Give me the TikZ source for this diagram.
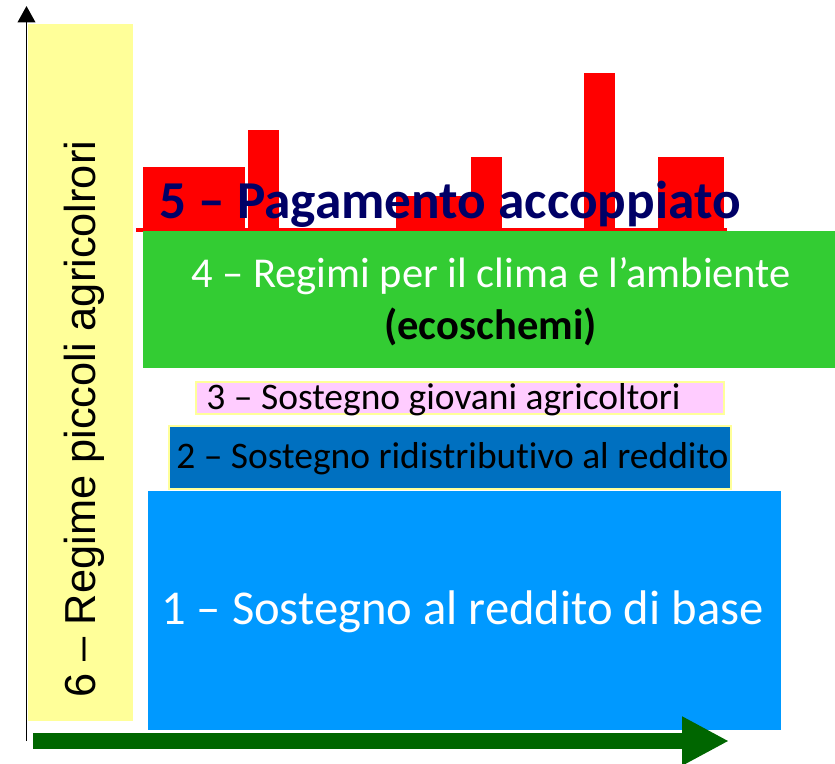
\documentclass[tikz,border=0pt]{standalone}
\usepackage{fontspec}
\setmainfont{Carlito}[Ligatures={TeX,NoCommon}]
\newfontfamily\arialfont{Liberation Sans}
\usetikzlibrary{arrows.meta}
\definecolor{schemeyellow}{HTML}{FFFF99}
\definecolor{barred}{HTML}{FF0000}
\definecolor{titlenavy}{HTML}{000066}
\definecolor{ecogreen}{HTML}{33CC33}
\definecolor{youngpink}{HTML}{FFCCFF}
\definecolor{redisblue}{HTML}{0070C0}
\definecolor{baseblue}{HTML}{0099FF}
\definecolor{axisgreen}{HTML}{006600}

\begin{document}
\begin{tikzpicture}[x=0.03cm, y=-0.03cm,
    every node/.style={inner sep=0pt},
    pillar/.style={anchor=base, font=\fontsize{32}{36}\selectfont}]
  \useasboundingbox (0,0) rectangle (835,764);
  % 6: small farmers, vertical column
  \fill[schemeyellow] (28,24) rectangle (133,721);
  \node[anchor=base, rotate=90, font=\arialfont\fontsize{37}{42}\selectfont]
    (small) at (95,419) {6 – Regime piccoli agricolrori};
  % 5: coupled payments, red bars on a base line
  \fill[barred] (136,228) rectangle (727,232);
  \foreach \xa/\xb/\yt in {143/245/167, 248/279/130, 396/471/196,
                           471/502/157, 584/615/73, 658/724/157} {
    \fill[barred] (\xa,\yt) rectangle (\xb,231);
  }
  % 4: eco-schemes
  \fill[ecogreen] (143,231) rectangle (835,368);
  \node[pillar, text=white, font=\fontsize{36.3}{40}\selectfont]
    (eco) at (491,288) {4 – Regimi per il clima e l’ambiente};
  \node[pillar, font=\bfseries\fontsize{36.3}{40}\selectfont]
    (econame) at (490.5,340) {(ecoschemi)};
  \node[anchor=base, text=titlenavy, font=\bfseries\fontsize{45.5}{50}\selectfont]
    (coupled) at (450,219) {5 – Pagamento accoppiato};
  % 3 and 2
  \filldraw[fill=youngpink, draw=schemeyellow, line width=1.5pt] (196,382) rectangle (724,414);
  \node[pillar] (young) at (443.5,409) {3 – Sostegno giovani agricoltori};
  \filldraw[fill=redisblue, draw=schemeyellow, line width=1pt] (169,426) rectangle (731,489);
  \node[pillar] (redis) at (452.5,468) {2 – Sostegno ridistributivo al reddito};
  % 1: basic income support
  \fill[baseblue] (148,491) rectangle (781,730);
  \node[pillar, text=white, font=\fontsize{41.5}{46}\selectfont]
    (basic) at (462.5,624) {1 – Sostegno al reddito di base};
  % axes
  \coordinate (yfoot) at (26.5,741);
  \coordinate (ytip) at (26.5,6);
  \coordinate (xfoot) at (33,741);
  \coordinate (xtip) at (729,741);
  \draw[line width=1.7pt, -{Triangle[width=15pt, length=14pt]}] (yfoot) -- (ytip);
  \draw[axisgreen, line width=13.6pt, -{Triangle[width=39pt, length=40pt]}] (xfoot) -- (xtip);
\end{tikzpicture}
\end{document}
